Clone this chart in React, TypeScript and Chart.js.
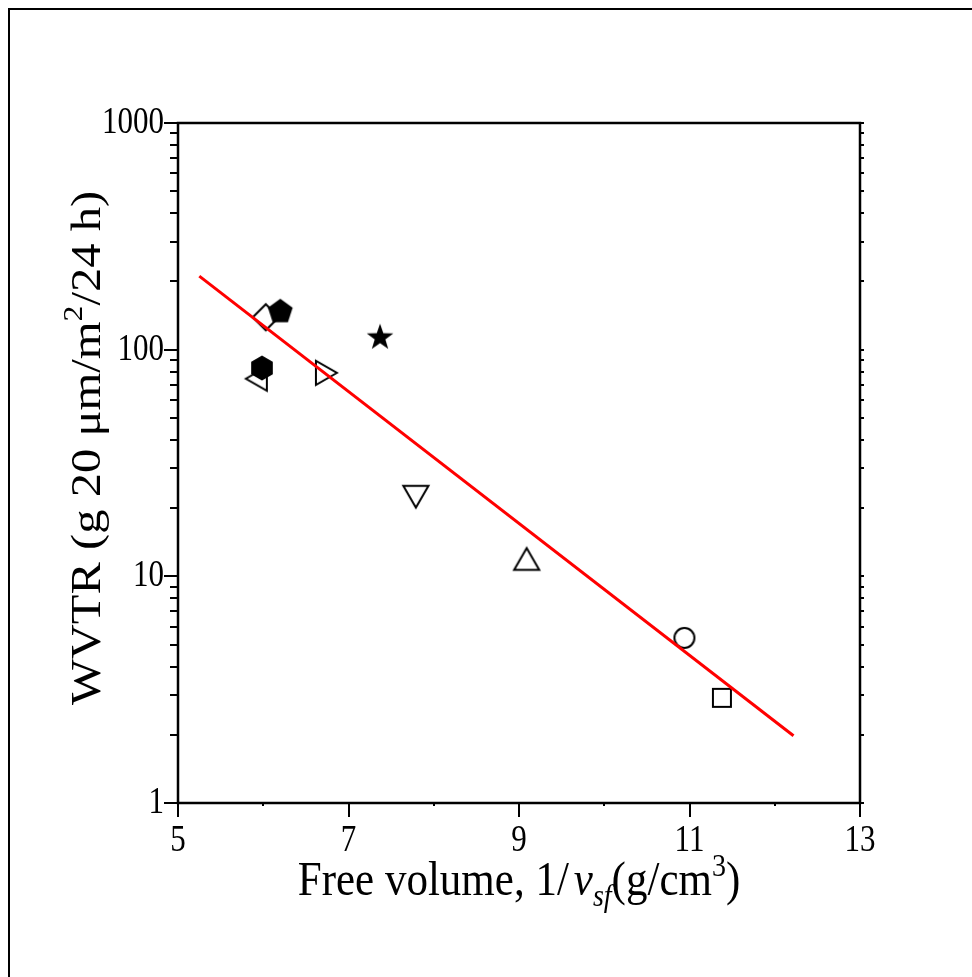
import React, { useEffect, useRef } from 'react';
import { Chart, registerables } from 'chart.js';
Chart.register(...registerables);

// ---- data ----
const fitX = [5.25, 12.22];
const fitY = [211, 1.98];

const markerShapes = ['pentagon', 'hexagon', 'star', 'diamond', 'triLeft', 'triRight', 'triDown', 'triUp', 'circle', 'square'];
const markerFilled = [true, true, true, false, false, false, false, false, false, false];
const markerX = [6.2, 5.985, 7.37, 6.03, 5.96, 6.7, 7.79, 9.09, 10.94, 11.38];
const markerY = [147, 83, 113, 139, 74.5, 79, 23.3, 11.5, 5.35, 2.91];

const xTickValues = [5, 7, 9, 11, 13];
const xTickLabels = ['5', '7', '9', '11', '13'];
const xMinorValues = [6, 8, 10, 12];
const yTickValues = [1, 10, 100, 1000];
const yTickLabels = ['1', '10', '100', '1000'];
const yMinorFactors = [2, 3, 4, 5, 6, 7, 8, 9];

const FONT = '"Liberation Serif", "Times New Roman", serif';
const STRETCH = 1.13;
const TICK_STRETCH = 1.22;

function makeMarker(shape: string, filled: boolean): HTMLCanvasElement {
  const S = 44;
  const c = document.createElement('canvas');
  c.width = S;
  c.height = S;
  const ctx = c.getContext('2d')!;
  const cx = S / 2, cy = S / 2;
  ctx.lineWidth = 2;
  ctx.strokeStyle = '#000';
  ctx.fillStyle = '#000';
  ctx.lineJoin = 'miter';
  ctx.beginPath();
  const poly = (n: number, r: number, rot: number) => {
    for (let i = 0; i < n; i++) {
      const a = rot + (i * 2 * Math.PI) / n;
      const x = cx + r * Math.sin(a);
      const y = cy - r * Math.cos(a);
      if (i === 0) ctx.moveTo(x, y);
      else ctx.lineTo(x, y);
    }
    ctx.closePath();
  };
  switch (shape) {
    case 'circle':
      ctx.arc(cx, cy, 10, 0, Math.PI * 2);
      break;
    case 'square':
      ctx.rect(cx - 9, cy - 9, 18, 18);
      break;
    case 'diamond':
      poly(4, 13, 0);
      break;
    case 'triUp':
      poly(3, 14.5, 0);
      break;
    case 'triDown':
      poly(3, 14.5, Math.PI);
      break;
    case 'triRight':
      poly(3, 14, Math.PI / 2);
      break;
    case 'triLeft':
      poly(3, 14, -Math.PI / 2);
      break;
    case 'pentagon':
      poly(5, 13, 0);
      break;
    case 'hexagon':
      poly(6, 12.5, 0);
      break;
    case 'star': {
      const ro = 14, ri = 5.6;
      for (let i = 0; i < 10; i++) {
        const r = i % 2 === 0 ? ro : ri;
        const a = (i * Math.PI) / 5;
        const x = cx + r * Math.sin(a);
        const y = cy - r * Math.cos(a);
        if (i === 0) ctx.moveTo(x, y);
        else ctx.lineTo(x, y);
      }
      ctx.closePath();
      break;
    }
  }
  if (filled) ctx.fill();
  else ctx.stroke();
  return c;
}

type Seg = { t: string; italic?: boolean; size?: number; dy?: number; gap?: number };

function drawRich(ctx: CanvasRenderingContext2D, segs: Seg[], base: number) {
  const fontOf = (s: Seg) => `${s.italic ? 'italic ' : ''}${s.size ?? base}px ${FONT}`;
  let total = 0;
  for (const s of segs) {
    ctx.font = fontOf(s);
    total += ctx.measureText(s.t).width + (s.gap ?? 0);
  }
  let x = -total / 2;
  for (const s of segs) {
    ctx.font = fontOf(s);
    ctx.fillText(s.t, x, s.dy ?? 0);
    x += ctx.measureText(s.t).width + (s.gap ?? 0);
  }
}

const isPow10 = (v: number) => Math.abs(Math.log10(v) - Math.round(Math.log10(v))) < 1e-9;

const decorPlugin = {
  id: 'decor',
  afterDraw(chart: any) {
    const { ctx, chartArea } = chart;
    const xs = chart.scales.x;
    const ys = chart.scales.y;
    const { left, right, top, bottom } = chartArea;
    ctx.save();
    ctx.strokeStyle = '#000';
    ctx.fillStyle = '#000';
    // outer border (left & top)
    ctx.lineWidth = 2;
    ctx.beginPath();
    ctx.moveTo(9, 977);
    ctx.lineTo(9, 9);
    ctx.lineTo(972, 9);
    ctx.stroke();
    // frame
    ctx.lineWidth = 2.5;
    ctx.beginPath();
    ctx.rect(left, top, right - left, bottom - top);
    ctx.stroke();
    // ticks
    const yTicks: number[] = [];
    for (let d = 0; d < yTickValues.length; d++) {
      yTicks.push(yTickValues[d]);
      if (d < yTickValues.length - 1) for (const f of yMinorFactors) yTicks.push(yTickValues[d] * f);
    }
    ctx.lineWidth = 2;
    ctx.beginPath();
    for (const v of yTicks) {
      const py = Math.round(ys.getPixelForValue(v));
      const len = isPow10(v) ? 14 : 8;
      ctx.moveTo(left - len, py);
      ctx.lineTo(left, py);
      ctx.moveTo(right, py);
      ctx.lineTo(right + 4, py);
    }
    for (const v of xTickValues) {
      const px = Math.round(xs.getPixelForValue(v));
      ctx.moveTo(px, bottom);
      ctx.lineTo(px, bottom + 14);
    }
    for (const v of xMinorValues) {
      const px = Math.round(xs.getPixelForValue(v));
      ctx.moveTo(px, bottom);
      ctx.lineTo(px, bottom + 3);
    }
    ctx.stroke();
    // tick labels
    ctx.font = `31px ${FONT}`;
    ctx.textAlign = 'center';
    ctx.textBaseline = 'alphabetic';
    xTickValues.forEach((v, i) => {
      ctx.save();
      ctx.translate(xs.getPixelForValue(v), 851);
      ctx.scale(1, TICK_STRETCH);
      ctx.fillText(xTickLabels[i], 0, 0);
      ctx.restore();
    });
    ctx.textAlign = 'right';
    ctx.textBaseline = 'middle';
    yTickValues.forEach((v, i) => {
      ctx.save();
      ctx.translate(left - 14, ys.getPixelForValue(v));
      ctx.scale(1, TICK_STRETCH);
      ctx.fillText(yTickLabels[i], 0, 0);
      ctx.restore();
    });
    // titles
    ctx.textAlign = 'left';
    ctx.textBaseline = 'alphabetic';
    ctx.save();
    ctx.translate((left + right) / 2, 895);
    ctx.scale(1, STRETCH);
    drawRich(ctx, [
      { t: 'Free volume, 1/', gap: 5 },
      { t: 'v', italic: true },
      { t: 'sf', italic: true, size: 28, dy: 10 },
      { t: '(g/cm' },
      { t: '3', size: 28, dy: -17 },
      { t: ')' },
    ], 43);
    ctx.restore();
    ctx.save();
    ctx.translate(100, 448);
    ctx.rotate(-Math.PI / 2);
    ctx.scale(STRETCH, 1);
    drawRich(ctx, [
      { t: 'WVTR (g 20 μm/m' },
      { t: '2', size: 28, dy: -18 },
      { t: '/24 h)' },
    ], 43);
    ctx.restore();
    ctx.restore();
  },
};

export default function App() {
  const ref = useRef<HTMLCanvasElement>(null);
  useEffect(() => {
    const canvas = ref.current!;
    const datasets: any[] = [
      {
        type: 'line',
        data: fitX.map((x, i) => ({ x, y: fitY[i] })),
        borderColor: '#ff0000',
        borderWidth: 3,
        pointRadius: 0,
        fill: false,
      },
    ];
    markerShapes.forEach((shape, i) => {
      datasets.push({
        type: 'scatter',
        data: [{ x: markerX[i], y: markerY[i] }],
        pointStyle: makeMarker(shape, markerFilled[i]),
        pointRadius: 10,
      });
    });
    const chart = new Chart(canvas, {
      type: 'scatter',
      data: { datasets },
      options: {
        animation: false,
        responsive: false,
        events: [],
        layout: { padding: { left: 0, top: 123, right: 112, bottom: 0 } },
        plugins: { legend: { display: false }, tooltip: { enabled: false } },
        scales: {
          x: {
            type: 'linear',
            min: 5,
            max: 13,
            border: { display: false },
            grid: { display: false, drawTicks: false },
            afterBuildTicks: (s: any) => {
              s.ticks = xTickValues.map((v) => ({ value: v }));
            },
            afterFit: (s: any) => {
              s.height = 977 - 803;
            },
            ticks: { display: false },
          },
          y: {
            type: 'logarithmic',
            min: 1,
            max: 1000,
            border: { display: false },
            grid: { display: false, drawTicks: false },
            afterBuildTicks: (s: any) => {
              s.ticks = yTickValues.map((v) => ({ value: v }));
            },
            afterFit: (s: any) => {
              s.width = 178;
            },
            ticks: { display: false },
          },
        },
      },
      plugins: [decorPlugin],
    });
    return () => chart.destroy();
  }, []);
  return (
    <div style={{ position: 'absolute', left: 0, top: 0, width: 972, height: 977, background: '#fff' }}>
      <canvas ref={ref} width={972} height={977} style={{ width: 972, height: 977, display: 'block' }} />
    </div>
  );
}
